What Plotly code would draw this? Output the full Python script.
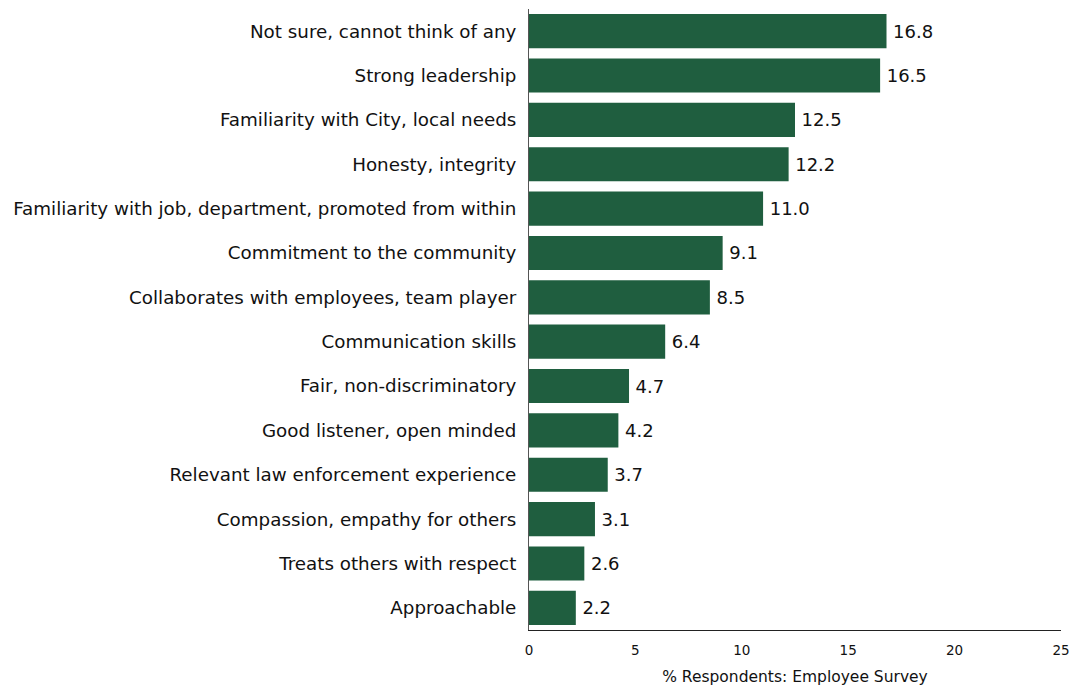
import plotly.graph_objects as go

categories = [
    "Not sure, cannot think of any",
    "Strong leadership",
    "Familiarity with City, local needs",
    "Honesty, integrity",
    "Familiarity with job, department, promoted from within",
    "Commitment to the community",
    "Collaborates with employees, team player",
    "Communication skills",
    "Fair, non-discriminatory",
    "Good listener, open minded",
    "Relevant law enforcement experience",
    "Compassion, empathy for others",
    "Treats others with respect",
    "Approachable",
]
values = [16.8, 16.5, 12.5, 12.2, 11.0, 9.1, 8.5, 6.4, 4.7, 4.2, 3.7, 3.1, 2.6, 2.2]
x_ticks = [0, 5, 10, 15, 20, 25]

FONT = "DejaVu Sans"

fig = go.Figure(
    go.Bar(
        y=categories,
        x=values,
        orientation="h",
        marker=dict(color="#1f5e3f", line=dict(width=0)),
        text=[f"\u2009{v:.1f}" for v in values],
        textposition="outside",
        textfont=dict(family=FONT, size=18, color="#111111"),
        cliponaxis=False,
        hoverinfo="skip",
    )
)

fig.update_layout(
    width=1075,
    height=686,
    margin=dict(l=529, r=14, t=9, b=56),
    paper_bgcolor="white",
    plot_bgcolor="white",
    showlegend=False,
    bargap=0.23,
    font=dict(family=FONT, color="#111111"),
)

fig.update_xaxes(
    range=[0, 25],
    tickvals=x_ticks,
    ticktext=[str(t) for t in x_ticks],
    showgrid=False,
    zeroline=False,
    showline=True,
    linecolor="#222222",
    linewidth=1,
    ticks="",
    ticklabelstandoff=8,
    automargin=False,
    tickfont=dict(family=FONT, size=13.5, color="#111111"),
    title=dict(text="% Respondents: Employee Survey", font=dict(family=FONT, size=15.5, color="#111111"), standoff=17),
)

fig.update_yaxes(
    categoryorder="array",
    categoryarray=categories[::-1],
    showgrid=False,
    zeroline=False,
    showline=True,
    linecolor="#555555",
    linewidth=1,
    ticks="",
    ticklabelstandoff=8,
    automargin=False,
    tickfont=dict(family=FONT, size=18.3, color="#111111"),
)

fig.write_html("out.html", config={"displayModeBar": False})

# remove the browser's default 8px body margin so the figure fills the window
with open("out.html", encoding="utf-8") as f:
    html = f.read()
html = html.replace("<body>", '<body style="margin:0;overflow:hidden">', 1)
with open("out.html", "w", encoding="utf-8") as f:
    f.write(html)
